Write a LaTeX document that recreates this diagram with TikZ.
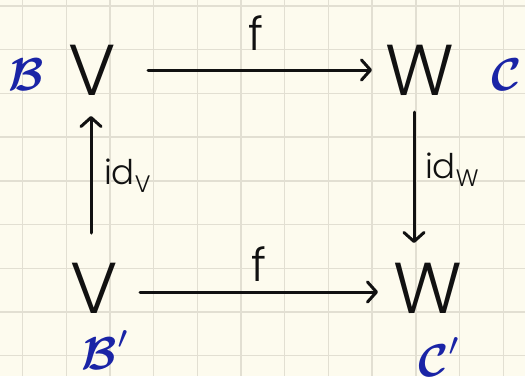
\documentclass[tikz,border=0pt]{standalone}
\usepackage{amsmath}
\usepackage{fontspec}
\usetikzlibrary{arrows.meta}
\newfontfamily\hand{Poppins Light}
\definecolor{paper}{HTML}{FDFBEE}
\definecolor{gridline}{HTML}{E2DFD2}
\definecolor{ink}{HTML}{111111}
\definecolor{blueink}{HTML}{1A24A6}
% calligraphic basis names, enlarged to the size of the objects
\newcommand{\basisname}[2]{\scalebox{4.6}{$\boldsymbol{\mathcal{#1}}#2$}}
\tikzset{
  obj/.style={inner sep=0pt, text=ink, font=\hand\fontsize{72}{72}\selectfont},
  lbl/.style={inner sep=0pt, text=ink, font=\hand\fontsize{34}{34}\selectfont},
  maplbl/.style={inner sep=0pt, text=ink, font=\hand\fontsize{46}{46}\selectfont},
  basis/.style={inner sep=0pt, text=blueink},
  arr/.style={draw=ink, line width=3pt, line cap=round,
    -{Straight Barb[length=9pt,width=20pt,line width=3pt,round]}},
}
\begin{document}
\begin{tikzpicture}[x=1pt,y=-1pt]
  % paper and squared grid
  \fill[paper] (0,0) rectangle (525,376);
  \useasboundingbox (0,0) rectangle (525,376);
  \foreach \k in {0,...,11} {
    \draw[gridline, line width=1.4pt] ({22.5+43.7*\k},0) -- ({22.5+43.7*\k},376);
  }
  \foreach \k in {0,...,8} {
    \draw[gridline, line width=1.4pt] (0,{6+43.7*\k}) -- (525,{6+43.7*\k});
  }

  % objects
  \node[obj] (V1) at (92,70) {V};
  \node[obj] (W1) at (420,70) {W};
  \node[obj] (V2) at (94,288) {V};
  \node[obj] (W2) at (428,288) {W};

  % bases
  \node[basis] (B)  at (26,75)  {\basisname{B}{}};
  \node[basis] (C)  at (507,75) {\basisname{C}{}};
  \node[basis] (Bp) at (106,350) {\basisname{B}{'}};
  \node[basis] (Cp) at (440,357) {\basisname{C}{'}};

  % maps
  \draw[arr, shorten <=56pt, shorten >=48pt] (V1.center) -- (W1.center);
  \draw[arr, shorten <=46pt, shorten >=50pt] ([yshift=-4pt]V2.center) -- ([yshift=-4pt]W2.center);
  \draw[arr, shorten <=55pt, shorten >=46pt] ([xshift=-3pt]V2.center) -- ([xshift=-1pt]V1.center);
  \draw[arr, shorten <=42pt, shorten >=45pt] ([xshift=-6pt]W1.center) -- ([xshift=-14pt]W2.center);

  % labels
  \node[maplbl] (f1) at (256,33) {f};
  \node[maplbl] (f2) at (259,264) {f};
  \node[lbl, anchor=west] (idV) at (104,176) {id\textsubscript{V}};
  \node[lbl, anchor=west] (idW) at (425,170) {id\textsubscript{W}};
\end{tikzpicture}
\end{document}
